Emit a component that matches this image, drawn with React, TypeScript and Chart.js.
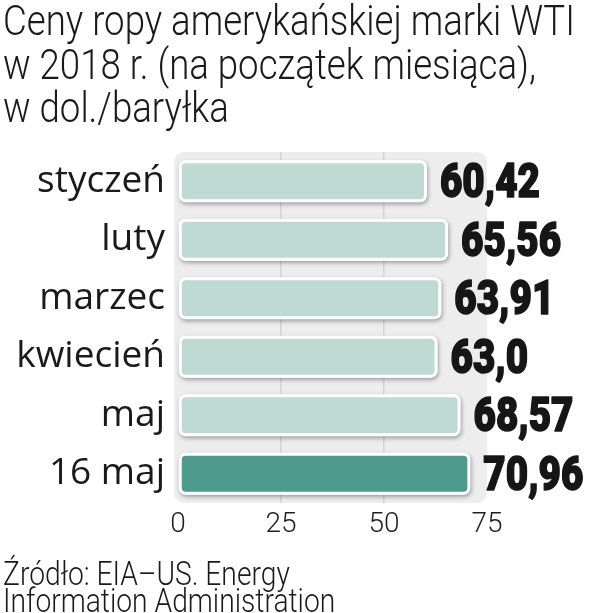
import React, { useEffect, useRef } from 'react';
import { Chart, registerables } from 'chart.js';
Chart.register(...registerables);

const categories = ['styczeń', 'luty', 'marzec', 'kwiecień', 'maj', '16 maj'];
const prices = [60.42, 65.56, 63.91, 63.0, 68.57, 70.96];
const priceLabels = ['60,42', '65,56', '63,91', '63,0', '68,57', '70,96'];
const xTickValues = [0, 25, 50, 75];
const titleLines = ['Ceny ropy amerykańskiej marki WTI', 'w 2018 r. (na początek miesiąca),', 'w dol./baryłka'];
const sourceLines = ['Źródło: EIA–US. Energy', 'Information Administration'];
const highlighted = [false, false, false, false, false, true];

const LIGHT = '#bfdad3';
const DARK = '#4e9a8c';

export default function App() {
  const canvasRef = useRef<HTMLCanvasElement>(null);
  const titleRef = useRef<HTMLDivElement>(null);
  const title1Ref = useRef<HTMLSpanElement>(null);
  const srcRef = useRef<HTMLDivElement>(null);
  const src2Ref = useRef<HTMLSpanElement>(null);

  useEffect(() => {
    if (title1Ref.current && titleRef.current) {
      const w = title1Ref.current.offsetWidth;
      titleRef.current.style.transform = `scaleX(${572 / w})`;
    }
    if (src2Ref.current && srcRef.current) {
      const w = src2Ref.current.offsetWidth;
      srcRef.current.style.transform = `scaleX(${332 / w})`;
    }

    const panelPlugin = {
      id: 'panel',
      beforeDraw(chart: any) {
        const { ctx, chartArea: a } = chart;
        ctx.save();
        ctx.fillStyle = '#ededed';
        ctx.beginPath();
        ctx.roundRect(a.left - 4, a.top, a.right - a.left + 4, a.bottom - a.top, 10);
        ctx.fill();
        ctx.restore();
      },
    };
    const shadowPlugin = {
      id: 'barShadow',
      beforeDatasetsDraw(chart: any) {
        const ctx = chart.ctx;
        const meta = chart.getDatasetMeta(0);
        ctx.save();
        meta.data.forEach((el: any) => {
          const { x, y, base, height } = el.getProps(['x', 'y', 'base', 'height'], true);
          ctx.shadowColor = 'rgba(0,0,0,0.35)';
          ctx.shadowBlur = 4;
          ctx.shadowOffsetX = 1;
          ctx.shadowOffsetY = 2;
          ctx.fillStyle = '#ffffff';
          ctx.beginPath();
          ctx.roundRect(base, y - height / 2, x - base, height, 7);
          ctx.fill();
        });
        ctx.restore();
      },
    };
    const valuePlugin = {
      id: 'values',
      afterDatasetsDraw(chart: any) {
        const ctx = chart.ctx;
        const meta = chart.getDatasetMeta(0);
        ctx.save();
        ctx.font = '900 48px Roboto';
        ctx.fillStyle = '#161616';
        ctx.strokeStyle = '#161616';
        ctx.lineWidth = 1.6;
        ctx.lineJoin = 'round';
        ctx.textBaseline = 'alphabetic';
        ctx.textAlign = 'left';
        const sx = 100 / ctx.measureText(priceLabels[0]).width;
        meta.data.forEach((el: any, i: number) => {
          ctx.save();
          ctx.translate(el.x + 13, el.y + 16);
          ctx.scale(sx, 1);
          ctx.fillText(priceLabels[i], 0, 0);
          ctx.strokeText(priceLabels[i], 0, 0);
          ctx.restore();
        });
        ctx.restore();
      },
    };

    const chart = new Chart(canvasRef.current!, {
      type: 'bar',
      data: {
        labels: categories,
        datasets: [
          {
            data: prices,
            backgroundColor: highlighted.map((h) => (h ? DARK : LIGHT)),
            borderColor: '#ffffff',
            borderWidth: 3,
            borderRadius: 7,
            borderSkipped: false,
            barPercentage: 0.9,
            categoryPercentage: 0.8,
          },
        ],
      },
      options: {
        indexAxis: 'y',
        responsive: false,
        animation: false,
        layout: { padding: { top: 152, right: 103, bottom: 70, left: 0 } },
        plugins: { legend: { display: false }, tooltip: { enabled: false }, title: { display: false } },
        scales: {
          x: {
            min: 0,
            max: 75,
            afterBuildTicks: (s: any) => {
              s.ticks = xTickValues.map((v) => ({ value: v }));
            },
            ticks: {
              font: { family: 'Roboto', weight: 300, size: 28 },
              color: '#1f1f1f',
              padding: 5,
              maxRotation: 0,
            },
            grid: {
              color: (c: any) =>
                c.tick && (c.tick.value === 25 || c.tick.value === 50) ? '#d4d4d4' : 'rgba(0,0,0,0)',
              lineWidth: 1.5,
              drawTicks: false,
            },
            border: { display: false },
            afterFit: (s: any) => {
              s.height = 40;
            },
          },
          y: {
            grid: { display: false },
            border: { display: false },
            ticks: { font: { family: 'Open Sans', size: 37 }, color: '#1a1a1a', padding: 5 },
            afterFit: (s: any) => {
              s.width = 178;
            },
          },
        },
      } as any,
      plugins: [panelPlugin, shadowPlugin, valuePlugin],
    });
    return () => chart.destroy();
  }, []);

  return (
    <div style={{ position: 'absolute', left: 0, top: 0, width: 590, height: 613, background: '#fff', overflow: 'hidden' }}>
      <canvas ref={canvasRef} width={590} height={613} style={{ position: 'absolute', left: 0, top: 0 }} />
      <div
        ref={titleRef}
        style={{
          position: 'absolute',
          left: 3,
          top: -1,
          fontFamily: 'Roboto',
          fontWeight: 300,
          fontSize: 43,
          lineHeight: '43.5px',
          color: '#1a1a1a',
          transformOrigin: 'left top',
          whiteSpace: 'nowrap',
        }}
      >
        {titleLines.map((t, i) => (
          <div key={i}>
            <span ref={i === 0 ? title1Ref : undefined} style={{ display: 'inline-block' }}>
              {t}
            </span>
          </div>
        ))}
      </div>
      <div
        ref={srcRef}
        style={{
          position: 'absolute',
          left: 3,
          top: 560,
          fontFamily: 'Roboto',
          fontWeight: 300,
          fontSize: 34,
          lineHeight: '26.5px',
          color: '#1a1a1a',
          transformOrigin: 'left top',
          whiteSpace: 'nowrap',
        }}
      >
        {sourceLines.map((t, i) => (
          <div key={i}>
            <span ref={i === 1 ? src2Ref : undefined} style={{ display: 'inline-block' }}>
              {t}
            </span>
          </div>
        ))}
      </div>
    </div>
  );
}
